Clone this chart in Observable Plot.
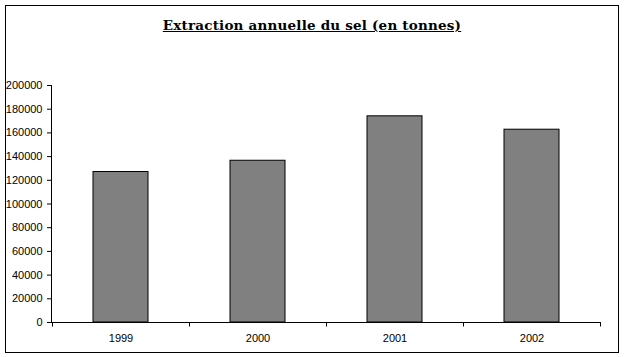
<!DOCTYPE html>
<html>
<head>
<meta charset="utf-8">
<script src="https://cdn.jsdelivr.net/npm/d3@7"></script>
<script src="https://cdn.jsdelivr.net/npm/@observablehq/plot@0.6"></script>
<style>
  html, body { margin: 0; padding: 0; background: #fff; }
  #wrap { position: relative; width: 624px; height: 357px; overflow: hidden; background: #fff; }
  #border { position: absolute; left: 5px; top: 5px; width: 614px; height: 348px; box-sizing: border-box; border: 1px solid #000; pointer-events: none; }
  #title { position: absolute; left: 0; top: 19px; width: 624px; text-align: center; font-family: "DejaVu Serif", serif; font-weight: bold; font-size: 13.5px; letter-spacing: 0.2px; line-height: 13px; text-decoration: underline; color: #000; z-index: 2; }
  #chart { position: absolute; left: 0; top: 0; }
</style>
</head>
<body>
<div id="wrap">
  <div id="chart"></div>
  <div id="title">Extraction annuelle du sel (en tonnes)</div>
  <div id="border"></div>
</div>
<script>
const titleText = "Extraction annuelle du sel (en tonnes)";
const years = ["1999", "2000", "2001", "2002"];
const tonnes = [127000, 136500, 174000, 162700];
const yTicks = [0, 20000, 40000, 60000, 80000, 100000, 120000, 140000, 160000, 180000, 200000];

const data = years.map((y, i) => ({year: y, value: tonnes[i]}));

const chart = Plot.plot({
  width: 624,
  height: 357,
  marginLeft: 51,
  marginRight: 24,
  marginTop: 85,
  marginBottom: 35,
  style: {fontFamily: "'Liberation Sans', Arial, sans-serif", fontSize: "11px", color: "#000", background: "transparent", overflow: "visible"},
  x: {domain: years, padding: 0, label: null, tickSize: 0, tickPadding: 12, line: true},
  y: {domain: [0, 200000], ticks: yTicks, tickFormat: d => String(d), tickSize: 4, tickPadding: 5, label: null, line: true},
  marks: [
    Plot.barY(data, {x: "year", y: "value", fill: "#808080", stroke: "#000", strokeWidth: 1, insetLeft: 41, insetRight: 41})
  ]
});
document.getElementById("chart").appendChild(chart);

// category separator ticks (Excel-style, between categories) using Plot's x scale
const sx = chart.scale("x");
const sy = chart.scale("y");
const y0 = sy.apply(0);
const bounds = years.map(y => sx.apply(y)).concat([sx.range[1]]);
d3.select(chart).append("g")
  .attr("stroke", "#000")
  .attr("transform", "translate(0.5,0.5)")
  .selectAll("line").data(bounds).join("line")
  .attr("x1", d => Math.round(d)).attr("x2", d => Math.round(d))
  .attr("y1", Math.round(y0)).attr("y2", Math.round(y0) + 4);
</script>
</body>
</html>
